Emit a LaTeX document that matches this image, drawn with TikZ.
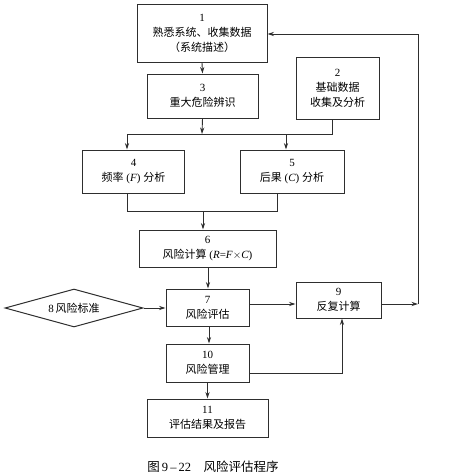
\documentclass[tikz,border=0pt]{standalone}
\usepackage{fontspec}
\setmainfont{Liberation Serif}
\newfontfamily\cjk{Noto Sans CJK SC}
\newcommand{\zh}[1]{{\cjk #1}}
\usetikzlibrary{arrows.meta,shapes.geometric}
\definecolor{ink}{HTML}{2E2E2E}
\tikzset{
  box/.style={draw=ink, line width=1pt, rectangle, inner sep=0pt, align=center,
    font=\fontsize{11pt}{15pt}\selectfont, text=black},
  conn/.style={draw=ink, line width=0.9pt},
  arr/.style={conn, -{Stealth[length=6.5pt,width=4.2pt]}},
}
\begin{document}
\begin{tikzpicture}[x=1pt,y=-1pt]
\useasboundingbox (0,0) rectangle (450,474);
\fill[white] (0,0) rectangle (450,474);

\node[box, minimum width=130pt, minimum height=58pt] (n1) at (202,33) {1\\\zh{熟悉系统、收集数据}\\\zh{（系统描述）}};
\node[box, minimum width=111pt, minimum height=44pt] (n3) at (202.5,96) {3\\\zh{重大危险辨识}};
\node[box, minimum width=83pt, minimum height=62pt] (n2) at (337.5,88) {2\\\zh{基础数据}\\\zh{收集及分析}};
\node[box, minimum width=102pt, minimum height=43pt] (n4) at (133.5,171.5) {4\\\zh{频率} (\textit{F}) \zh{分析}};
\node[box, minimum width=104pt, minimum height=43pt] (n5) at (292,171.5) {5\\\zh{后果} (\textit{C}) \zh{分析}};
\node[box, minimum width=137pt, minimum height=37pt] (n6) at (207.5,248.5) {6\\\zh{风险计算} (\textit{R}=\textit{F}$\times$\textit{C})};
\node[box, minimum width=83pt, minimum height=37pt] (n7) at (207.5,307.5) {7\\\zh{风险评估}};
\node[box, minimum width=85pt, minimum height=36pt] (n9) at (338.5,300) {9\\\zh{反复计算}};
\node[box, shape=diamond, aspect=3.6, minimum width=138pt, minimum height=38pt] (n8) at (74,308) {8\,\zh{风险标准}};
\node[box, minimum width=83pt, minimum height=38pt] (n10) at (207.5,363) {10\\\zh{风险管理}};
\node[box, minimum width=121pt, minimum height=38pt] (n11) at (207.5,418) {11\\\zh{评估结果及报告}};
\node[font=\fontsize{12.5pt}{14pt}\selectfont, inner sep=0pt] (cap) at (213,467) {\zh{图}\,9\,–\,22\quad\zh{风险评估程序}};

% bus between row 3/2 and row 4/5
\coordinate (busL) at (127,134);
\coordinate (busR) at (332,134);
\coordinate (busM) at (202,134);
\coordinate (bus5) at (286,134);
\draw[arr] (n3.south) -- (busM);
\draw[conn] (n2.south -| busR) -- (busR) -- (busL);
\draw[arr] (busL) -- (n4.north -| busL);
\draw[arr] (bus5) -- (n5.north -| bus5);

% join of 4 and 5 into 6
\coordinate (j4) at (127,211);
\coordinate (j5) at (277,211);
\coordinate (j6) at (203,211);
\draw[conn] (n4.south -| j4) -- (j4) -- (j5) -- (n5.south -| j5);
\draw[arr] (j6) -- (n6.north -| j6);

\draw[arr] (n1.south) -- (n3.north);
\draw[arr] (n6.south -| 208,0) -- (n7.north -| 208,0);
\draw[arr] (n8.east) -- (n8.east -| n7.west);
\draw[arr] (n7.east |- 0,304) -- (n9.west |- 0,304);
\draw[arr] (n7.south -| 209,0) -- (n10.north -| 209,0);
\draw[arr] (n10.south) -- (n11.north);

% 10 -> 9
\coordinate (k10) at (342,373);
\draw[arr] (n10.east |- k10) -- (k10) -- (n9.south -| k10);

% 9 -> feedback to 1
\coordinate (fb) at (418,304);
\coordinate (fbtop) at (418,34);
\draw[arr] (n9.east |- fb) -- (fb);
\draw[arr] (fb) -- (fbtop) -- (n1.east |- fbtop);
\end{tikzpicture}
\end{document}
